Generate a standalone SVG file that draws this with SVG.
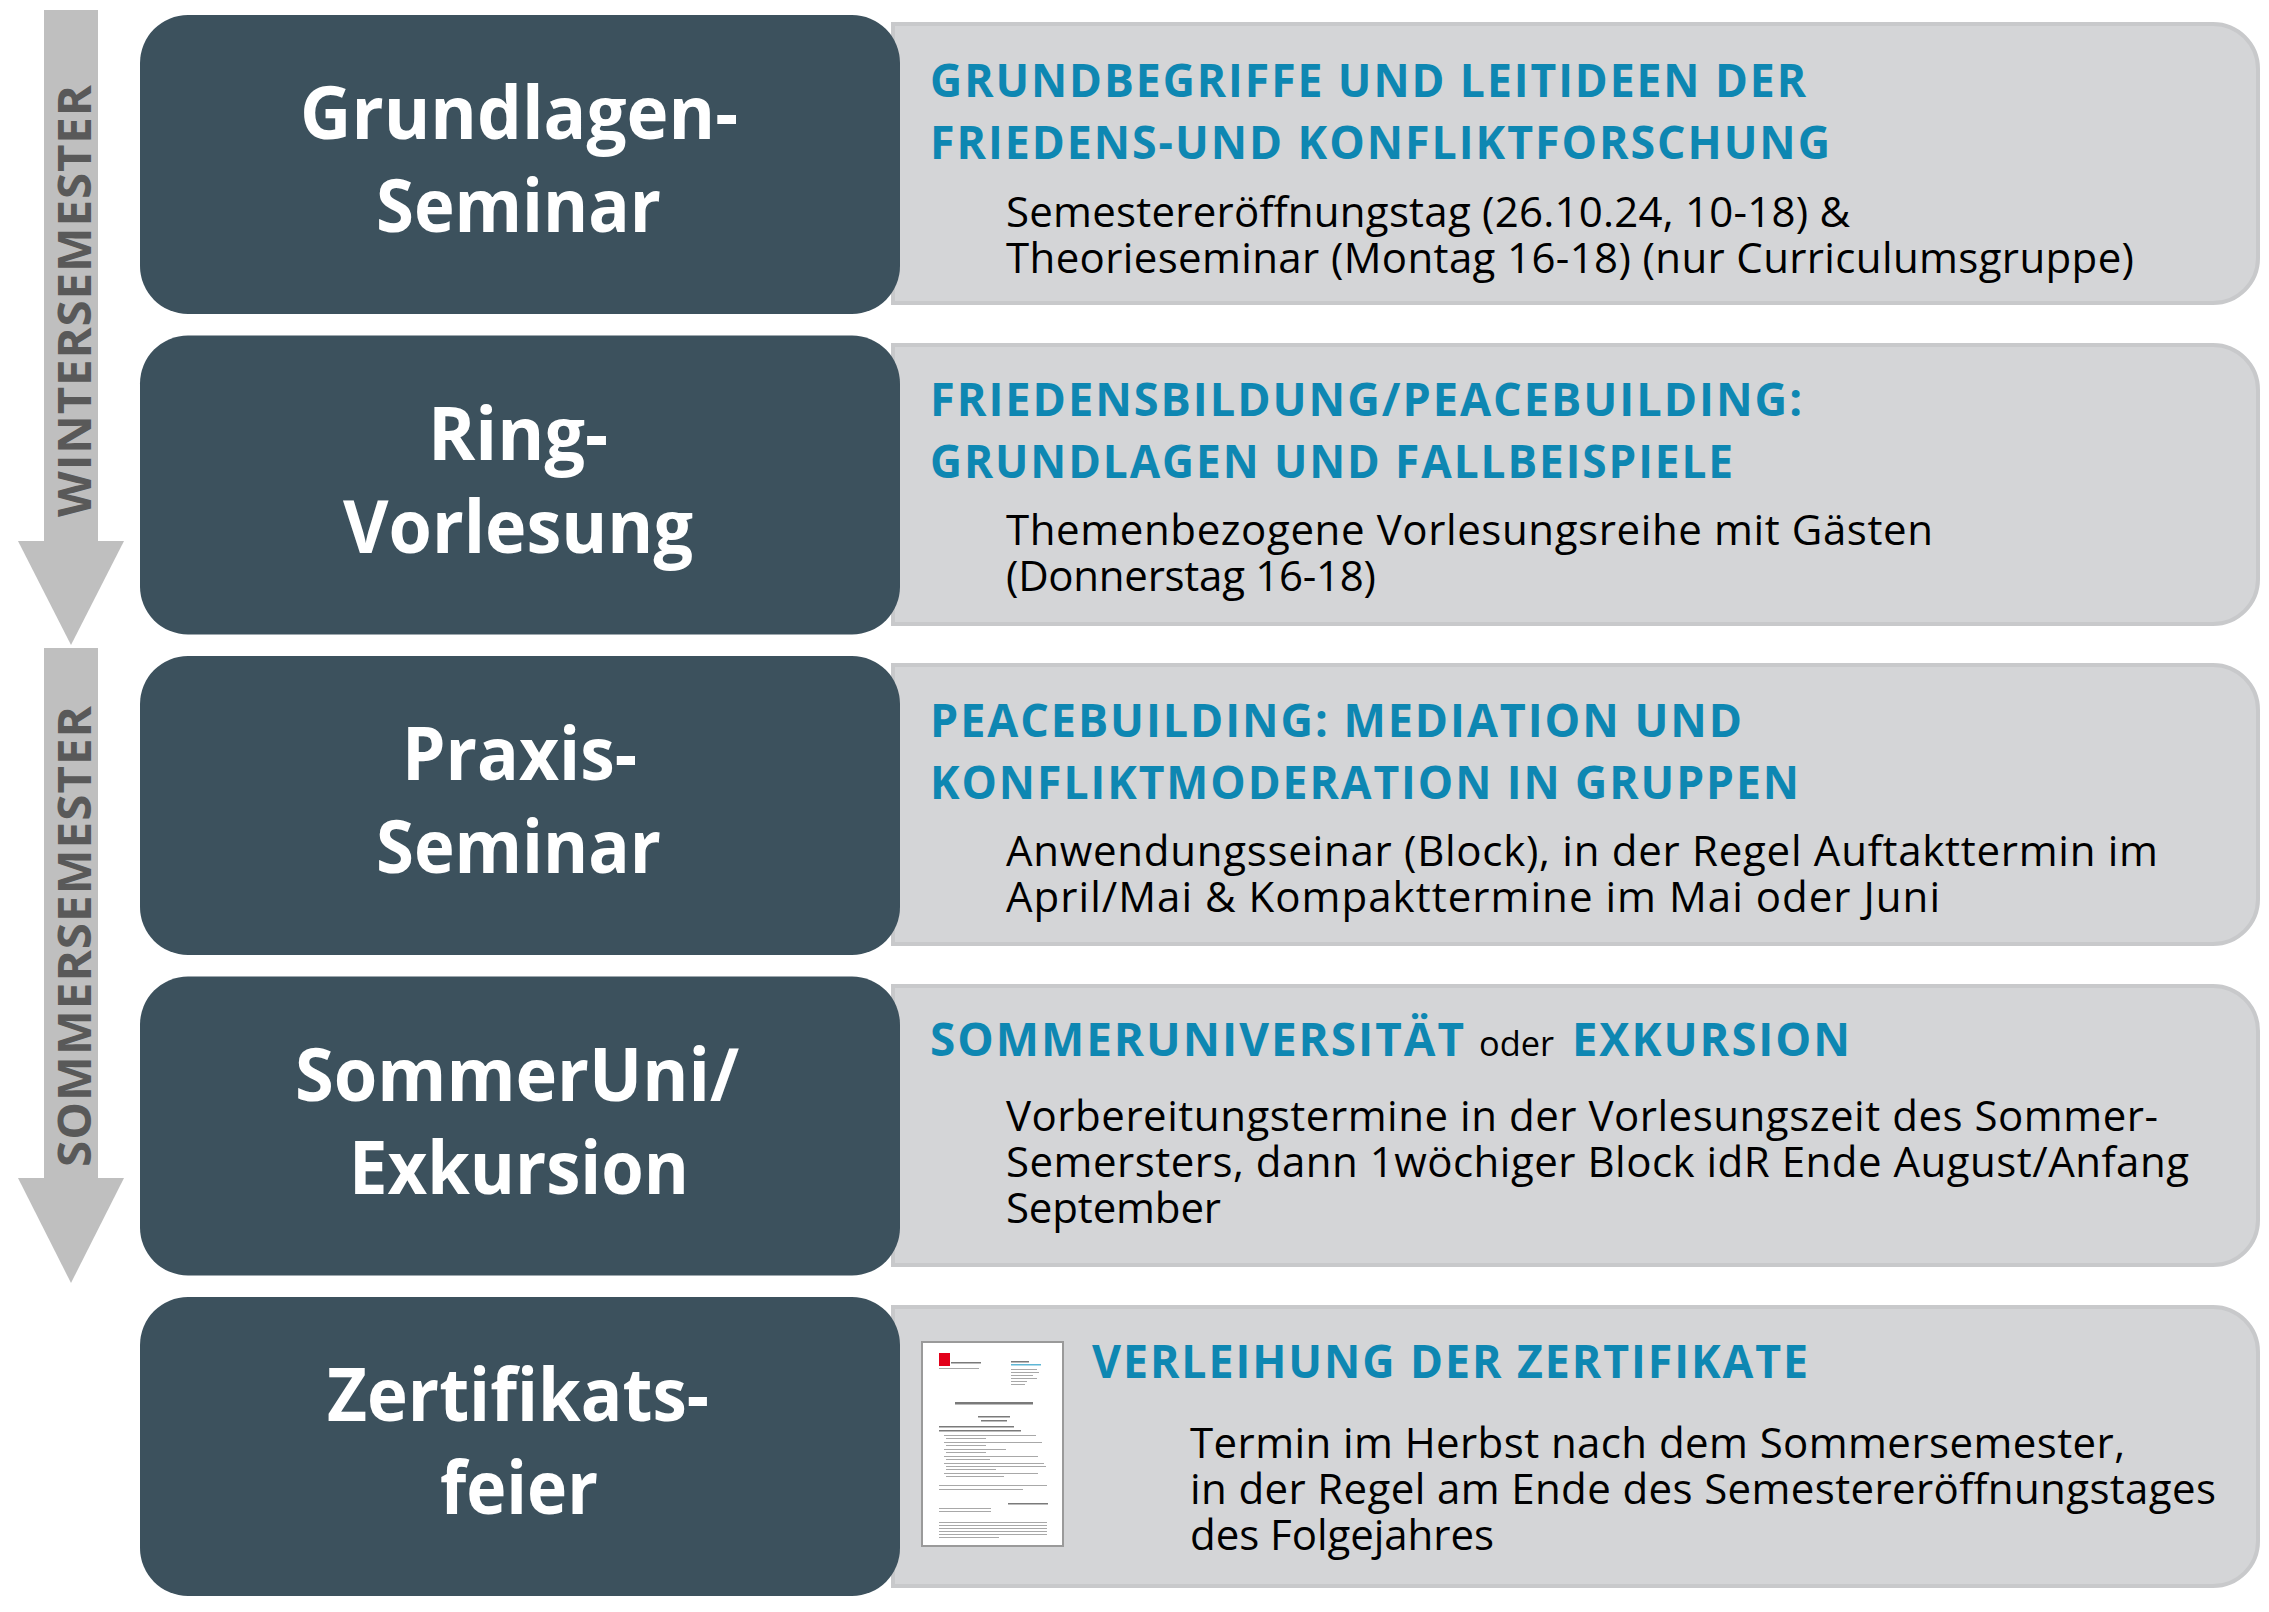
<svg xmlns="http://www.w3.org/2000/svg" width="2269" height="1612" viewBox="0 0 2269 1612">
<style>
text{font-family:"Open Sans","Noto Sans","DejaVu Sans",sans-serif}
.dark{fill:#3c515d}
.gray{fill:#d4d5d7;stroke:#c8c9cb;stroke-width:4}
.title{font-weight:700;font-size:74px;fill:#ffffff}
.head{font-weight:700;font-size:46px;letter-spacing:2px;fill:#0e87b2}
.body{font-size:42px;fill:#000000}
.oder{font-size:35px;fill:#000000}
.sem{font-weight:700;font-size:47px;letter-spacing:1px;fill:#595959}
.arrow{fill:#bfbfbf}
.ln{fill:#a8a8a8}
.lnd{fill:#7a7a7a}
</style>
<rect width="2269" height="1612" fill="#ffffff"/>
<g id="connectors">
  <g id="arrow-wintersemester">
    <rect class="arrow" x="44" y="10" width="54" height="532"/>
    <polygon class="arrow" points="18,541 124,541 71,645"/>
    <text class="sem" transform="translate(91,517) rotate(-90)" textLength="433" lengthAdjust="spacingAndGlyphs">WINTERSEMESTER</text>
  </g>
  <g id="arrow-sommersemester">
    <rect class="arrow" x="44" y="648" width="54" height="531"/>
    <polygon class="arrow" points="18,1178 124,1178 71,1283"/>
    <text class="sem" transform="translate(91,1167) rotate(-90)" textLength="462" lengthAdjust="spacingAndGlyphs">SOMMERSEMESTER</text>
  </g>
</g>
<g id="detail-grundlagen">
  <path class="gray" d="M893,24 H2213 A45,45 0 0 1 2258,69 V258 A45,45 0 0 1 2213,303 H893 Z"/>
  <text class="head" x="930" y="97" textLength="878" lengthAdjust="spacingAndGlyphs">GRUNDBEGRIFFE UND LEITIDEEN DER</text>
  <text class="head" x="930" y="159" textLength="902" lengthAdjust="spacingAndGlyphs">FRIEDENS-UND KONFLIKTFORSCHUNG</text>
  <text class="body" x="1006" y="227" textLength="844" lengthAdjust="spacing">Semestereröffnungstag (26.10.24, 10-18) &amp;</text>
  <text class="body" x="1006" y="273" textLength="1128" lengthAdjust="spacing">Theorieseminar (Montag 16-18) (nur Curriculumsgruppe)</text>
</g>
<g id="detail-ring">
  <path class="gray" d="M893,345 H2213 A45,45 0 0 1 2258,390 V579 A45,45 0 0 1 2213,624 H893 Z"/>
  <text class="head" x="930" y="416" textLength="874" lengthAdjust="spacingAndGlyphs">FRIEDENSBILDUNG/PEACEBUILDING:</text>
  <text class="head" x="930" y="478" textLength="805" lengthAdjust="spacingAndGlyphs">GRUNDLAGEN UND FALLBEISPIELE</text>
  <text class="body" x="1006" y="545" textLength="927" lengthAdjust="spacing">Themenbezogene Vorlesungsreihe mit Gästen</text>
  <text class="body" x="1006" y="591" textLength="370" lengthAdjust="spacing">(Donnerstag 16-18)</text>
</g>
<g id="detail-praxis">
  <path class="gray" d="M893,665 H2213 A45,45 0 0 1 2258,710 V899 A45,45 0 0 1 2213,944 H893 Z"/>
  <text class="head" x="930" y="737" textLength="814" lengthAdjust="spacingAndGlyphs">PEACEBUILDING: MEDIATION UND</text>
  <text class="head" x="930" y="799" textLength="871" lengthAdjust="spacingAndGlyphs">KONFLIKTMODERATION IN GRUPPEN</text>
  <text class="body" x="1006" y="866" textLength="1152" lengthAdjust="spacing">Anwendungsseinar (Block), in der Regel Auftakttermin im</text>
  <text class="body" x="1006" y="912" textLength="934" lengthAdjust="spacing">April/Mai &amp; Kompakttermine im Mai oder Juni</text>
</g>
<g id="detail-sommeruni">
  <path class="gray" d="M893,986 H2213 A45,45 0 0 1 2258,1031 V1220 A45,45 0 0 1 2213,1265 H893 Z"/>
  <text class="head" x="930" y="1056" textLength="536" lengthAdjust="spacingAndGlyphs">SOMMERUNIVERSITÄT</text>
  <text class="oder" x="1479" y="1056" textLength="75" lengthAdjust="spacingAndGlyphs">oder</text>
  <text class="head" x="1572" y="1056" textLength="280" lengthAdjust="spacingAndGlyphs">EXKURSION</text>
  <text class="body" x="1006" y="1131" textLength="1152" lengthAdjust="spacing">Vorbereitungstermine in der Vorlesungszeit des Sommer-</text>
  <text class="body" x="1006" y="1177" textLength="1183" lengthAdjust="spacing">Semersters, dann 1wöchiger Block idR Ende August/Anfang</text>
  <text class="body" x="1006" y="1223" textLength="215" lengthAdjust="spacing">September</text>
</g>
<g id="detail-zertifikat">
  <path class="gray" d="M893,1307 H2213 A45,45 0 0 1 2258,1352 V1541 A45,45 0 0 1 2213,1586 H893 Z"/>
  <g id="certificate-thumbnail">
    <rect x="922" y="1342" width="141" height="204" fill="#ffffff" stroke="#9a9a9a" stroke-width="2"/>
    <rect x="939" y="1353" width="11" height="13" fill="#e2001a"/>
    <rect class="lnd" x="951" y="1362" width="30" height="1.5"/>
    <rect class="ln" x="939" y="1368" width="40" height="1"/>
    <rect class="lnd" x="1011" y="1361" width="18" height="1.5"/>
    <rect x="1011" y="1364" width="30" height="1.5" fill="#5fb7d6"/>
    <rect class="ln" x="1011" y="1369" width="26" height="1"/>
    <rect class="ln" x="1011" y="1372" width="28" height="1"/>
    <rect class="ln" x="1011" y="1375" width="22" height="1"/>
    <rect class="ln" x="1011" y="1378" width="26" height="1"/>
    <rect class="ln" x="1011" y="1381" width="16" height="1"/>
    <rect class="ln" x="1011" y="1384" width="14" height="1"/>
    <rect class="lnd" x="955" y="1402" width="78" height="2.5"/>
    <rect class="lnd" x="978" y="1416" width="32" height="1.5"/>
    <rect class="lnd" x="981" y="1420" width="26" height="1.5"/>
    <rect class="lnd" x="939" y="1426" width="75" height="1.5"/>
    <rect class="lnd" x="939" y="1430" width="82" height="1.5"/>
    <rect class="ln" x="944" y="1435" width="92" height="1"/>
    <rect class="ln" x="946" y="1438" width="40" height="1"/>
    <rect class="ln" x="944" y="1442" width="98" height="1"/>
    <rect class="ln" x="946" y="1445" width="40" height="1"/>
    <rect class="ln" x="944" y="1449" width="62" height="1"/>
    <rect class="ln" x="946" y="1452" width="40" height="1"/>
    <rect class="ln" x="944" y="1456" width="94" height="1"/>
    <rect class="ln" x="946" y="1459" width="44" height="1"/>
    <rect class="ln" x="944" y="1463" width="100" height="1"/>
    <rect class="ln" x="946" y="1466" width="100" height="1"/>
    <rect class="ln" x="946" y="1469" width="50" height="1"/>
    <rect class="ln" x="944" y="1473" width="94" height="1"/>
    <rect class="ln" x="946" y="1476" width="58" height="1"/>
    <rect class="ln" x="939" y="1485" width="108" height="1"/>
    <rect class="ln" x="939" y="1489" width="84" height="1"/>
    <rect class="lnd" x="1008" y="1503" width="40" height="1.5"/>
    <rect class="ln" x="939" y="1508" width="52" height="1"/>
    <rect class="ln" x="939" y="1511" width="52" height="1"/>
    <rect class="ln" x="939" y="1522" width="108" height="1"/>
    <rect class="ln" x="939" y="1525" width="108" height="1"/>
    <rect class="ln" x="939" y="1528" width="108" height="1"/>
    <rect class="ln" x="939" y="1531" width="108" height="1"/>
    <rect class="ln" x="939" y="1534" width="108" height="1"/>
    <rect class="ln" x="939" y="1537" width="60" height="1"/>
  </g>
  <text class="head" x="1092" y="1378" textLength="718" lengthAdjust="spacingAndGlyphs">VERLEIHUNG DER ZERTIFIKATE</text>
  <text class="body" x="1190" y="1458" textLength="935" lengthAdjust="spacing">Termin im Herbst nach dem Sommersemester,</text>
  <text class="body" x="1190" y="1504" textLength="1026" lengthAdjust="spacing">in der Regel am Ende des Semestereröffnungstages</text>
  <text class="body" x="1190" y="1550" textLength="304" lengthAdjust="spacing">des Folgejahres</text>
</g>
<g id="node-grundlagen">
  <rect class="dark" x="140" y="15" width="760" height="299" rx="48"/>
  <text class="title" x="300" y="139" textLength="438" lengthAdjust="spacingAndGlyphs">Grundlagen-</text>
  <text class="title" x="376" y="232" textLength="285" lengthAdjust="spacingAndGlyphs">Seminar</text>
</g>
<g id="node-ring">
  <rect class="dark" x="140" y="335.5" width="760" height="299" rx="48"/>
  <text class="title" x="428" y="459.5" textLength="180" lengthAdjust="spacingAndGlyphs">Ring-</text>
  <text class="title" x="343" y="552.5" textLength="350" lengthAdjust="spacingAndGlyphs">Vorlesung</text>
</g>
<g id="node-praxis">
  <rect class="dark" x="140" y="656" width="760" height="299" rx="48"/>
  <text class="title" x="402" y="780" textLength="235" lengthAdjust="spacingAndGlyphs">Praxis-</text>
  <text class="title" x="376" y="873" textLength="285" lengthAdjust="spacingAndGlyphs">Seminar</text>
</g>
<g id="node-sommeruni">
  <rect class="dark" x="140" y="976.5" width="760" height="299" rx="48"/>
  <text class="title" x="295" y="1100.5" textLength="444" lengthAdjust="spacingAndGlyphs">SommerUni/</text>
  <text class="title" x="349" y="1193.5" textLength="340" lengthAdjust="spacingAndGlyphs">Exkursion</text>
</g>
<g id="node-zertifikat">
  <rect class="dark" x="140" y="1297" width="760" height="299" rx="48"/>
  <text class="title" x="327" y="1421" textLength="382" lengthAdjust="spacingAndGlyphs">Zertifikats-</text>
  <text class="title" x="440" y="1514" textLength="158" lengthAdjust="spacingAndGlyphs">feier</text>
</g>
</svg>
